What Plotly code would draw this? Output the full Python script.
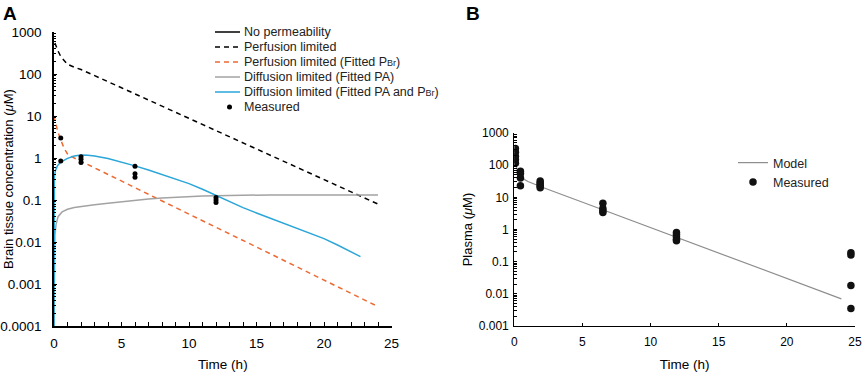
import plotly.graph_objects as go

W, H = 865, 373

# ---------------- Panel A data: brain tissue concentration ----------------
t_noperm = [0, 24]
c_noperm = [0, 0]

t_perf = [0.07, 0.25, 0.5, 1, 1.5, 2, 5, 10, 15, 20, 24]
c_perf = [550, 380, 260, 170, 145, 128, 47, 8.8, 1.64, 0.31, 0.08]

t_perf_fit = [0, 0.1, 0.25, 0.5, 0.75, 1, 1.5, 2, 5, 10, 15, 20, 24]
c_perf_fit = [10, 7, 4.6, 2.7, 1.7, 1.25, 1.0, 0.84, 0.28, 0.046, 0.0076, 0.00125, 0.00029]

t_diff_pa = [0, 0.03, 0.07, 0.15, 0.3, 0.6, 1, 1.5, 2, 3, 4, 5, 6, 7, 8, 9, 10, 11, 12, 14, 16, 20, 24]
c_diff_pa = [0.0001, 0.008, 0.015, 0.026, 0.040, 0.052, 0.060, 0.066, 0.070, 0.077, 0.084, 0.091,
             0.098, 0.105, 0.111, 0.116, 0.120, 0.124, 0.127, 0.130, 0.132, 0.132, 0.131]

t_diff_both = [0, 0.01, 0.03, 0.1, 0.25, 0.5, 1, 1.5, 2, 2.5, 3, 4, 5, 6, 7, 8, 9, 10, 11, 12,
               13, 14, 15, 16, 17, 18, 19, 20, 21, 22, 22.7]
c_diff_both = [0.0001, 0.12, 0.35, 0.5, 0.65, 0.8, 0.98, 1.12, 1.18, 1.17, 1.12, 0.97, 0.8, 0.65,
               0.52, 0.41, 0.32, 0.245, 0.18, 0.128, 0.092, 0.066, 0.049, 0.037, 0.028, 0.021,
               0.016, 0.012, 0.0085, 0.006, 0.0045]

t_meas_a = [0.5, 0.5, 2, 2, 2, 6, 6, 6, 12, 12, 12]
c_meas_a = [3.0, 0.85, 1.07, 0.93, 0.78, 0.64, 0.42, 0.35, 0.115, 0.10, 0.087]

# ---------------- Panel B data: plasma ----------------
t_model = [0, 0.1, 0.25, 0.5, 0.75, 1, 1.5, 2, 6, 12, 18, 24]
c_model = [140, 105, 65, 45, 36, 31, 25, 21, 4.9, 0.55, 0.062, 0.007]

t_meas_b = [0.08, 0.08, 0.08, 0.08, 0.08, 0.45, 0.45, 0.45, 0.45, 1.9, 1.9, 1.9, 1.9, 1.9,
            6.5, 6.5, 6.5, 6.5, 11.9, 11.9, 11.9, 11.9, 11.9, 24.7, 24.7, 24.7, 24.7]
c_meas_b = [330, 250, 190, 150, 115, 65, 55, 40, 23, 32, 28, 25, 22, 20,
            6.5, 4.5, 3.8, 3.4, 0.8, 0.7, 0.6, 0.5, 0.45, 0.19, 0.16, 0.018, 0.0035]

# tick labels
ytick_a = [0.0001, 0.001, 0.01, 0.1, 1, 10, 100, 1000]
ytext_a = ["0.0001", "0.001", "0.01", "0.1", "1", "10", "100", "1000"]
ytick_b = [0.001, 0.01, 0.1, 1, 10, 100, 1000]
ytext_b = ["0.001", "0.01", "0.1", "1", "10", "100", "1000"]
xtick = [0, 5, 10, 15, 20, 25]

FONT = "Liberation Sans, Arial, sans-serif"
BLACK = "#000000"
ORANGE = "#EC6A34"
GRAY = "#A3A3A3"
BLUE = "#2AA6D9"
SUB_BR = "P<span style='font-size:9px'>Br</span>"

series_a = [
    dict(name="No permeability", x=t_noperm, y=c_noperm, mode="lines",
         line=dict(color=BLACK, width=1.5)),
    dict(name="Perfusion limited", x=t_perf, y=c_perf, mode="lines",
         line=dict(color=BLACK, width=1.5, dash="5px,4px")),
    dict(name="Perfusion limited (Fitted " + SUB_BR + ")", x=t_perf_fit, y=c_perf_fit,
         mode="lines", line=dict(color=ORANGE, width=1.5, dash="5px,4px")),
    dict(name="Diffusion limited (Fitted PA)", x=t_diff_pa, y=c_diff_pa, mode="lines",
         line=dict(color=GRAY, width=1.5)),
    dict(name="Diffusion limited (Fitted PA and " + SUB_BR + ")", x=t_diff_both, y=c_diff_both,
         mode="lines", line=dict(color=BLUE, width=1.5)),
    dict(name="Measured", x=t_meas_a, y=c_meas_a, mode="markers",
         marker=dict(color=BLACK, size=5)),
]

fig = go.Figure()
for s in series_a:
    fig.add_trace(go.Scatter(xaxis="x", yaxis="y", showlegend=False, **s))

fig.add_trace(go.Scatter(x=t_model, y=c_model, mode="lines", name="Model",
                         line=dict(color="#8E8E8E", width=1.2), xaxis="x2", yaxis="y2"))
fig.add_trace(go.Scatter(x=t_meas_b, y=c_meas_b, mode="markers", name="Measured",
                         marker=dict(color="#111111", size=7.5), xaxis="x2", yaxis="y2"))


def px(x):
    return x / W


def py(y):
    return 1 - y / H


# Manual legend for panel A (tight rows)
shapes = []
annotations = []
for i, s in enumerate(series_a):
    yy = 32 + 15 * i
    if s["mode"] == "lines":
        shapes.append(dict(type="line", xref="paper", yref="paper",
                           x0=px(215), x1=px(240), y0=py(yy), y1=py(yy),
                           line=dict(color=s["line"]["color"], width=1.5,
                                     dash=s["line"].get("dash", "solid"))))
    else:
        shapes.append(dict(type="circle", xref="paper", yref="paper",
                           x0=px(227), x1=px(232), y0=py(yy - 2.5), y1=py(yy + 2.5),
                           fillcolor=BLACK, line=dict(width=0)))
    annotations.append(dict(text=s["name"], xref="paper", yref="paper",
                            x=px(242), y=py(yy), xanchor="left", yanchor="middle",
                            showarrow=False, font=dict(size=12.5, family=FONT, color="#222")))

# Panel labels
annotations.append(dict(text="<b>A</b>", xref="paper", yref="paper", x=px(10), y=py(13),
                        xanchor="center", yanchor="middle", showarrow=False,
                        font=dict(size=19, family=FONT, color=BLACK)))
annotations.append(dict(text="<b>B</b>", xref="paper", yref="paper", x=px(473), y=py(13),
                        xanchor="center", yanchor="middle", showarrow=False,
                        font=dict(size=19, family=FONT, color=BLACK)))
# Panel A y title
annotations.append(dict(text="Brain tissue concentration (<i>μ</i>M)", xref="paper", yref="paper",
                        x=px(8), y=py(179), textangle=-90, xanchor="center", yanchor="middle",
                        showarrow=False, font=dict(size=13, family=FONT, color=BLACK)))


def minor_log(lo, hi):
    return [m * 10.0 ** e for e in range(lo, hi) for m in range(2, 10)]


axis_common = dict(showgrid=False, zeroline=False, showline=True, linecolor=BLACK,
                   ticks="inside", tickcolor=BLACK, automargin=False,
                   ticklabeloverflow="allow")

fig.update_layout(
    template="none",
    width=W, height=H,
    margin=dict(l=0, r=0, t=0, b=0, pad=0),
    paper_bgcolor="white", plot_bgcolor="white",
    font=dict(family=FONT, color=BLACK),
    shapes=shapes, annotations=annotations,
    xaxis=dict(domain=[px(54), px(391.5)], range=[0, 25], tickmode="array", tickvals=xtick,
               ticklen=4, linewidth=1.5, tickfont=dict(size=13.5),
               minor=dict(dtick=1, ticks="inside", ticklen=4, tickcolor=BLACK),
               title=dict(text="Time (h)", font=dict(size=13.5), standoff=10),
               anchor="y", ticklabelstandoff=4, **axis_common),
    yaxis=dict(domain=[py(326), py(32)], type="log", range=[-4, 3], tickmode="array",
               tickvals=ytick_a, ticktext=ytext_a, ticklen=3, linewidth=1.5,
               tickfont=dict(size=13.5),
               minor=dict(tickmode="array", tickvals=minor_log(-4, 3), ticks="inside",
                          ticklen=2.5, tickcolor=BLACK),
               anchor="x", ticklabelstandoff=8, **axis_common),
    xaxis2=dict(domain=[px(514.3), px(855)], range=[0, 25], tickmode="array", tickvals=xtick,
                ticklen=3, linewidth=1.2, tickfont=dict(size=12),
                title=dict(text="Time (h)", font=dict(size=13.5), standoff=12),
                anchor="y2", ticklabelstandoff=4, **axis_common),
    yaxis2=dict(domain=[py(326), py(133)], type="log", range=[-3, 3], tickmode="array",
                tickvals=ytick_b, ticktext=ytext_b, ticklen=3, linewidth=1.2,
                tickfont=dict(size=12),
                minor=dict(tickmode="array", tickvals=minor_log(-3, 3), ticks="inside",
                           ticklen=2.5, tickcolor=BLACK),
                title=dict(text="Plasma (<i>μ</i>M)", font=dict(size=13), standoff=3),
                anchor="x2", ticklabelstandoff=2, **axis_common),
    legend=dict(x=px(733), y=py(148), xanchor="left", yanchor="top",
                font=dict(size=12.5, family=FONT, color="#222"), bgcolor="rgba(0,0,0,0)",
                itemwidth=30, tracegroupgap=0),
)

fig.write_html("out.html", config={"displayModeBar": False},
               post_script="document.body.style.margin='0';document.body.style.overflow='hidden';")
